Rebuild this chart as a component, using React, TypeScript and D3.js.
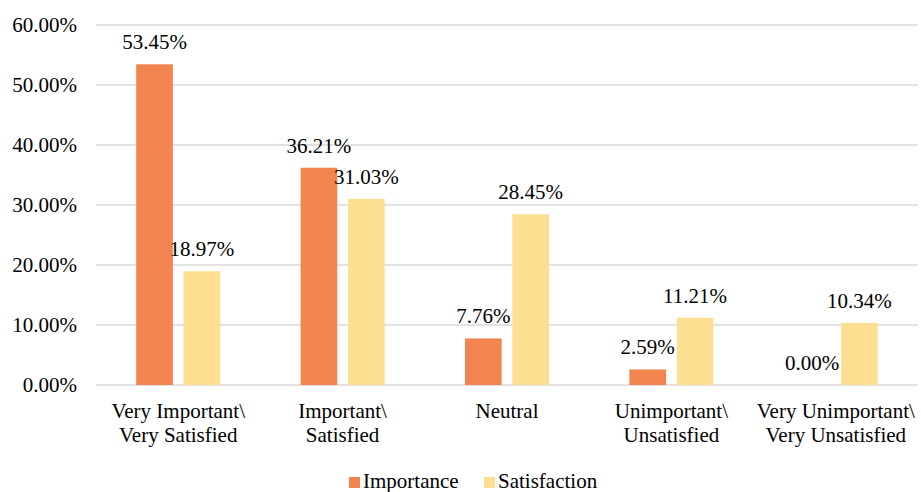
import React from "react";
import * as d3 from "d3";

const categories: string[][] = [
  ["Very Important\\", "Very Satisfied"],
  ["Important\\", "Satisfied"],
  ["Neutral"],
  ["Unimportant\\", "Unsatisfied"],
  ["Very Unimportant\\", "Very Unsatisfied"],
];
const importance: number[] = [53.45, 36.21, 7.76, 2.59, 0.0];
const satisfaction: number[] = [18.97, 31.03, 28.45, 11.21, 10.34];
const yTicks: number[] = [0, 10, 20, 30, 40, 50, 60];
const seriesNames: string[] = ["Importance", "Satisfaction"];

const W = 921;
const H = 492;
const COLORS = ["#F2854F", "#FDDF91"];

function Label(props: { x: number; y: number; anchor?: string; children: React.ReactNode }) {
  return (
    <text
      x={props.x}
      y={props.y}
      textAnchor={props.anchor || "middle"}
      fontSize={21}
      fill="#000"
      style={{ fontFamily: "Liberation Serif" }}
    >
      {props.children}
    </text>
  );
}

export default function App() {
  const x = d3
    .scaleBand<number>()
    .domain(categories.map((_, i) => i))
    .range([96, 918])
    .paddingInner(0)
    .paddingOuter(0);
  const y = d3.scaleLinear().domain([0, 60]).range([385, 25]);
  const bw = x.bandwidth();
  const barW = bw * 0.2232;
  const gap = bw * 0.065;
  const series = [importance, satisfaction];
  const fmt = (v: number) => v.toFixed(2) + "%";

  return (
    <svg width={W} height={H} style={{ position: "absolute", left: 0, top: 0 }}>
      <rect x={0} y={0} width={W} height={H} fill="#fff" />
      {yTicks.map((t) => (
        <g key={t}>
          <line x1={96} x2={918} y1={y(t)} y2={y(t)} stroke="#d9d9d9" strokeWidth={1.3} />
          <Label x={77} y={y(t) + 7} anchor="end">
            {t.toFixed(2) + "%"}
          </Label>
        </g>
      ))}
      {categories.map((lines, i) => {
        const cx = (x(i) as number) + bw / 2;
        return (
          <g key={i}>
            {series.map((vals, s) => {
              const bx = s === 0 ? cx - gap / 2 - barW : cx + gap / 2;
              const v = vals[i];
              return (
                <g key={s}>
                  {v > 0 && (
                    <rect x={bx} y={y(v)} width={barW} height={y(0) - y(v)} fill={COLORS[s]} />
                  )}
                  <Label x={bx + barW / 2} y={y(v) - 15}>
                    {fmt(v)}
                  </Label>
                </g>
              );
            })}
            {lines.map((ln, k) => (
              <Label key={k} x={cx} y={418 + k * 24}>
                {ln}
              </Label>
            ))}
          </g>
        );
      })}
      {seriesNames.map((name, s) => {
        const lx = s === 0 ? 349 : 484;
        return (
          <g key={name}>
            <rect x={lx} y={477} width={11} height={11} fill={COLORS[s]} />
            <Label x={lx + 14} y={488} anchor="start">
              {name}
            </Label>
          </g>
        );
      })}
    </svg>
  );
}
